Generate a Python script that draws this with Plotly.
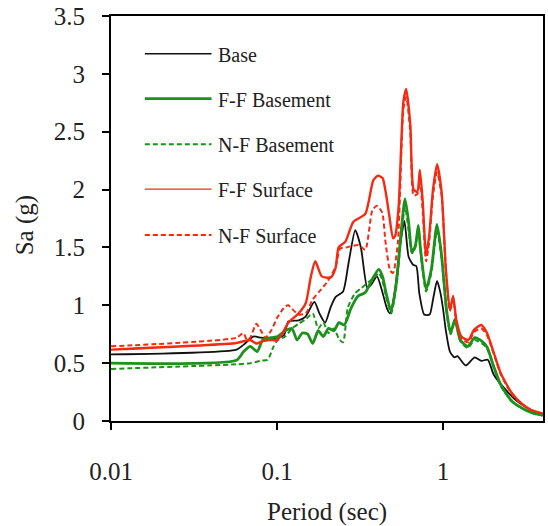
import plotly.graph_objects as go

# ---------------- data ----------------
T_base = [0.01, 0.057, 0.063, 0.072, 0.080, 0.090, 0.100, 0.110, 0.117, 0.135, 0.148, 0.168,
          0.180, 0.195, 0.210, 0.225, 0.250, 0.270, 0.296, 0.320, 0.350, 0.370, 0.400, 0.430,
          0.460, 0.480, 0.510, 0.550, 0.585, 0.620, 0.660, 0.690, 0.720, 0.770, 0.830, 0.870,
          0.920, 0.960, 1.00, 1.04, 1.10, 1.17, 1.22, 1.37, 1.55, 1.70, 1.86, 2.02, 2.35,
          2.80, 3.35, 4.0]
Sa_base = [0.575, 0.617, 0.66, 0.73, 0.72, 0.71, 0.72, 0.74, 0.86, 0.87, 0.90, 1.03,
           0.93, 0.85, 0.98, 1.07, 1.12, 1.37, 1.65, 1.50, 1.15, 1.18, 1.25, 1.12,
           0.97, 0.93, 1.10, 1.50, 1.73, 1.42, 1.35, 1.34, 1.10, 0.92, 0.92, 1.05,
           1.21, 1.12, 0.97, 0.78, 0.60, 0.55, 0.56, 0.48, 0.55, 0.52, 0.53, 0.40, 0.28,
           0.17, 0.10, 0.05]

T_ffb = [0.01, 0.057, 0.063, 0.069, 0.076, 0.082, 0.092, 0.101, 0.112, 0.123, 0.132, 0.142,
         0.153, 0.164, 0.177, 0.190, 0.204, 0.220, 0.236, 0.254, 0.280, 0.308, 0.340, 0.373,
         0.410, 0.432, 0.453, 0.487, 0.524, 0.556, 0.590, 0.620, 0.650, 0.680, 0.710, 0.730,
         0.790, 0.850, 0.920, 0.980, 1.05, 1.11, 1.18, 1.27, 1.41, 1.55, 1.71, 1.84, 2.02,
         2.23, 2.60, 3.00, 3.45, 4.0]
Sa_ffb = [0.50, 0.525, 0.60, 0.645, 0.60, 0.70, 0.72, 0.73, 0.78, 0.80, 0.70, 0.76,
          0.75, 0.67, 0.78, 0.73, 0.80, 0.78, 0.85, 0.83, 0.98, 1.08, 1.11, 1.22,
          1.31, 1.25, 1.11, 0.95, 1.20, 1.60, 1.92, 1.72, 1.46, 1.51, 1.69, 1.50,
          1.14, 1.31, 1.70, 1.43, 0.96, 0.76, 0.88, 0.70, 0.645, 0.72, 0.69, 0.64, 0.47,
          0.31, 0.17, 0.11, 0.07, 0.05]

T_nfb = [0.01, 0.057, 0.069, 0.080, 0.088, 0.095, 0.101, 0.112, 0.123, 0.135, 0.149, 0.164,
         0.177, 0.190, 0.204, 0.220, 0.236, 0.250, 0.267, 0.294, 0.323, 0.356, 0.392, 0.410,
         0.430, 0.453, 0.487, 0.524, 0.556, 0.590, 0.620, 0.650, 0.680, 0.710, 0.730, 0.790,
         0.850, 0.920, 0.980, 1.05, 1.11, 1.18, 1.27, 1.41, 1.55, 1.71, 1.84, 2.02, 2.23,
         2.60, 3.00, 3.45, 4.0]
Sa_nfb = [0.45, 0.49, 0.50, 0.52, 0.53, 0.64, 0.70, 0.73, 0.80, 0.84, 0.88, 0.93,
          0.80, 0.85, 0.76, 0.80, 0.71, 0.68, 0.98, 1.10, 1.15, 1.20, 1.25, 1.28,
          1.22, 1.08, 0.93, 1.17, 1.55, 1.85, 1.65, 1.45, 1.50, 1.65, 1.48, 1.12,
          1.28, 1.65, 1.40, 0.94, 0.75, 0.86, 0.69, 0.63, 0.70, 0.67, 0.63, 0.46, 0.30,
          0.17, 0.11, 0.07, 0.045]

T_ffs = [0.01, 0.057, 0.063, 0.069, 0.075, 0.082, 0.090, 0.100, 0.107, 0.117, 0.135, 0.149,
         0.160, 0.170, 0.186, 0.210, 0.225, 0.235, 0.258, 0.288, 0.340, 0.380, 0.405, 0.432,
         0.450, 0.475, 0.500, 0.515, 0.540, 0.577, 0.600, 0.635, 0.665, 0.700, 0.725, 0.755,
         0.790, 0.825, 0.870, 0.920, 0.980, 1.04, 1.10, 1.15, 1.20, 1.29, 1.42, 1.54, 1.70,
         1.84, 2.02, 2.23, 2.60, 2.98, 3.40, 4.0]
Sa_ffs = [0.617, 0.674, 0.69, 0.70, 0.67, 0.69, 0.70, 0.70, 0.75, 0.85, 0.93, 1.02,
          1.25, 1.38, 1.25, 1.24, 1.32, 1.50, 1.55, 1.72, 1.79, 2.08, 2.12, 2.10,
          1.99, 1.77, 1.58, 1.60, 1.85, 2.76, 2.87, 2.56, 2.00, 1.98, 2.17, 1.89,
          1.43, 1.60, 2.00, 2.22, 1.98, 1.31, 0.96, 1.08, 0.88, 0.73, 0.70, 0.79, 0.83,
          0.76, 0.59, 0.41, 0.24, 0.15, 0.095, 0.065]

T_nfs = [0.01, 0.057, 0.0627, 0.066, 0.069, 0.075, 0.080, 0.085, 0.092, 0.101, 0.112, 0.117,
         0.123, 0.135, 0.149, 0.164, 0.180, 0.200, 0.225, 0.240, 0.260, 0.310, 0.340, 0.375,
         0.400, 0.430, 0.450, 0.480, 0.500, 0.535, 0.577, 0.600, 0.635, 0.665, 0.700, 0.725,
         0.755, 0.790, 0.825, 0.870, 0.920, 0.980, 1.04, 1.10, 1.15, 1.20, 1.29, 1.42, 1.54,
         1.70, 1.84, 2.02, 2.23, 2.60, 2.98, 3.40, 4.0]
Sa_nfs = [0.645, 0.72, 0.76, 0.70, 0.72, 0.84, 0.78, 0.72, 0.78, 0.90, 0.99, 1.00,
          0.97, 0.92, 0.93, 1.05, 1.12, 1.20, 1.33, 1.49, 1.50, 1.52, 1.48, 1.82,
          1.86, 1.80, 1.55, 1.30, 1.28, 1.55, 2.70, 2.80, 2.50, 1.95, 1.96, 2.08,
          1.80, 1.38, 1.55, 1.95, 2.15, 1.95, 1.30, 0.95, 1.05, 0.86, 0.71, 0.68, 0.77,
          0.80, 0.74, 0.58, 0.40, 0.23, 0.145, 0.09, 0.06]

names = ["Base", "F-F Basement", "N-F Basement", "F-F Surface", "N-F Surface"]
x_ticks = [0.01, 0.1, 1]
y_ticks = [0, 0.5, 1, 1.5, 2, 2.5, 3, 3.5]

# ---------------- styles ----------------
BLACK = "#111111"
GREEN = "#1c921c"
RED = "#f42a12"
styles = [
    dict(color=BLACK, width=1.8, dash="solid"),
    dict(color=GREEN, width=2.8, dash="solid"),
    dict(color=GREEN, width=2.0, dash="5px,3px"),
    dict(color=RED, width=2.4, dash="solid"),
    dict(color=RED, width=2.0, dash="5px,3px"),
]
series = [(T_base, Sa_base), (T_ffb, Sa_ffb), (T_nfb, Sa_nfb), (T_ffs, Sa_ffs), (T_nfs, Sa_nfs)]

FONT = "Liberation Serif, Times New Roman, Times, serif"

fig = go.Figure()
for (t, s), name, st in zip(series, names, styles):
    fig.add_trace(go.Scatter(x=t, y=s, mode="lines", name=name,
                             line=dict(color=st["color"], width=st["width"], dash=st["dash"],
                                       shape="spline", smoothing=0.6),
                             showlegend=False, hoverinfo="skip"))

# custom legend (paper coordinates)
L, R, T, B = 111, 3, 14, 105
W, H = 548, 526
pw, ph = W - L - R, H - T - B
def px(x):
    return (x - L) / pw
def py(y):
    return (H - B - y) / ph

leg_y = [52, 97, 143, 188, 234]
leg_widths = [1.5, 2.8, 2.0, 1.4, 2.0]
shapes = []
annotations = []
for name, st, yy, lw in zip(names, styles, leg_y, leg_widths):
    shapes.append(dict(type="line", xref="paper", yref="paper",
                       x0=px(145), x1=px(212), y0=py(yy), y1=py(yy),
                       line=dict(color=st["color"], width=lw, dash=st["dash"])))
    annotations.append(dict(xref="paper", yref="paper", x=px(216), y=py(yy + 1),
                            text=name, showarrow=False, xanchor="left", yanchor="middle",
                            font=dict(family=FONT, size=20, color="#222222")))

annotations.append(dict(xref="paper", yref="paper", x=px(25), y=py(224), text="Sa (g)",
                        textangle=-90, showarrow=False, xanchor="center", yanchor="middle",
                        font=dict(family=FONT, size=25, color="#222222")))
annotations.append(dict(xref="paper", yref="paper", x=px(328), y=py(512), text="Period (sec)",
                        showarrow=False, xanchor="center", yanchor="middle",
                        font=dict(family=FONT, size=25, color="#222222")))

fig.update_layout(
    width=W, height=H,
    margin=dict(l=L, r=R, t=T, b=B, pad=0),
    paper_bgcolor="white", plot_bgcolor="white",
    showlegend=False,
    shapes=shapes, annotations=annotations,
    font=dict(family=FONT, color="#222222"),
)
fig.update_xaxes(type="log", range=[-2, 0.602], tickvals=x_ticks, ticktext=["0.01", "0.1", "1"],
                 ticks="outside", ticklen=7, tickwidth=1.5, tickcolor="black",
                 showline=True, linecolor="black", linewidth=2, mirror=True,
                 showgrid=False, zeroline=False, ticklabelstandoff=20,
                 tickfont=dict(family=FONT, size=25, color="#222222"))
fig.update_yaxes(range=[0, 3.5], tickvals=y_ticks,
                 ticks="outside", ticklen=7, tickwidth=1.5, tickcolor="black",
                 showline=True, linecolor="black", linewidth=2, mirror=True,
                 showgrid=False, zeroline=False, ticklabelstandoff=12,
                 tickfont=dict(family=FONT, size=25, color="#222222"))

fig.write_html("out.html")
